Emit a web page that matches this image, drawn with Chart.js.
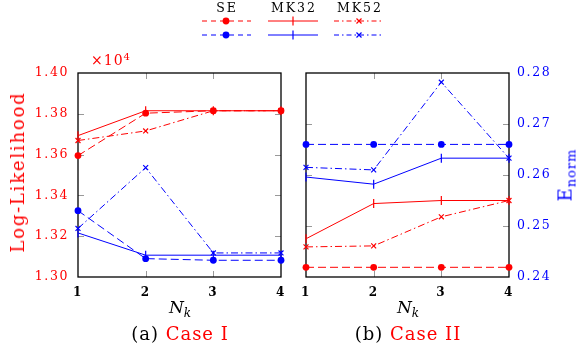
<!DOCTYPE html>
<html>
<head>
<meta charset="utf-8">
<script src="https://cdn.jsdelivr.net/npm/chart.js@4"></script>
<style>
  html, body { margin: 0; padding: 0; background: #fff; }
  #wrap { position: relative; width: 577px; height: 352px; overflow: hidden; font-family: 'DejaVu Serif', serif; }
  canvas { position: absolute; top: 0; }
  .lbl { position: absolute; white-space: nowrap; line-height: 1; transform: translate(-50%, -50%); }
  .rot { transform: translate(-50%, -50%) rotate(-90deg); }
  .red { color: #ff0000; }
  .blue { color: #0000ff; }
  #legend { position: absolute; left: 0; top: 0; }
</style>
</head>
<body>
<div id="wrap">
  <canvas id="caseI" width="290" height="300" style="left:0"></canvas>
  <canvas id="caseII" width="287" height="300" style="left:290px"></canvas>

  <svg id="legend" width="577" height="45"></svg>

  <div class="lbl red" style="left:111px;top:59px;font-size:14px;letter-spacing:1px">×10<sup style="font-size:10px;vertical-align:5px">4</sup></div>
  <div class="lbl red rot" style="left:18px;top:172px;font-size:18px;letter-spacing:1.8px">Log-Likelihood</div>
  <div class="lbl blue rot" style="left:567px;top:175px;font-size:18px;letter-spacing:1px">E<sub style="font-size:13px;vertical-align:-4px">norm</sub></div>

  <div class="lbl" style="left:180px;top:309px;font-size:17px;font-style:italic">N<sub style="font-size:12px;vertical-align:-4px">k</sub></div>
  <div class="lbl" style="left:408px;top:309px;font-size:17px;font-style:italic">N<sub style="font-size:12px;vertical-align:-4px">k</sub></div>
  <div class="lbl" style="left:180px;top:334px;font-size:18px;letter-spacing:1px">(a) <span class="red">Case I</span></div>
  <div class="lbl" style="left:408px;top:334px;font-size:18px;letter-spacing:1px">(b) <span class="red">Case II</span></div>
</div>

<script>
// ============= Data =============
const NK = [1, 2, 3, 4];

// (a) Case I — left axis, Log-Likelihood (x10^4)
const caseI_SE_red   = [1.3595, 1.3803, 1.3815, 1.3815];
const caseI_MK32_red = [1.3693, 1.3815, 1.3815, 1.3815];
const caseI_MK52_red = [1.3669, 1.3716, 1.3815, 1.3815];
const caseI_SE_blue   = [1.3325, 1.3090, 1.3082, 1.3082];
const caseI_MK32_blue = [1.3216, 1.3107, 1.3107, 1.3107];
const caseI_MK52_blue = [1.3238, 1.3536, 1.3118, 1.3118];

// (b) Case II — right axis, E_norm
const caseII_SE_blue   = [0.2660, 0.2660, 0.2660, 0.2660];
const caseII_MK32_blue = [0.2596, 0.2582, 0.2633, 0.2633];
const caseII_MK52_blue = [0.2615, 0.2610, 0.2782, 0.2633];
const caseII_SE_red   = [0.2419, 0.2419, 0.2419, 0.2419];
const caseII_MK32_red = [0.2475, 0.2544, 0.2550, 0.2550];
const caseII_MK52_red = [0.2459, 0.2461, 0.2518, 0.2550];

const ticksI = [1.30, 1.32, 1.34, 1.36, 1.38, 1.40];
const ticksII = [0.24, 0.25, 0.26, 0.27, 0.28];

const RED = '#ff0000';
const BLUE = '#0000ff';

// series styles by kernel
const styles = {
    SE:   { borderDash: [8, 4], pointStyle: 'circle', pointRadius: 3.4, rotation: 0 },
    MK32: { borderDash: [], pointStyle: 'line', pointRadius: 4.5, rotation: 90 },
    MK52: { borderDash: [7, 3, 1.5, 3], pointStyle: 'crossRot', pointRadius: 3.5, rotation: 0 }
};

function series(data, kernel, color) {
    const s = styles[kernel];
    return {
        label: kernel, data: data,
        borderColor: color, backgroundColor: color,
        borderWidth: 1, borderDash: s.borderDash,
        pointStyle: s.pointStyle, pointRadius: s.pointRadius, pointRotation: s.rotation,
        pointBorderWidth: kernel === 'SE' ? 0 : 1.2,
        pointBorderColor: color, pointBackgroundColor: color,
        tension: 0, clip: false
    };
}

// Frame + inner tick marks (pgfplots style)
const frameTicks = {
    id: 'frameTicks',
    beforeDatasetsDraw(chart) {
        const { ctx, chartArea: a, scales } = chart;
        const y = scales.y, x = scales.x;
        ctx.save();
        ctx.strokeStyle = '#999';
        ctx.lineWidth = 1;
        ctx.beginPath();
        y.ticks.forEach(t => {
            const py = Math.round(y.getPixelForValue(t.value)) + 0.5;
            if (py < a.top + 2 || py > a.bottom - 2) return;
            ctx.moveTo(a.left, py); ctx.lineTo(a.left + 6, py);
            ctx.moveTo(a.right - 6, py); ctx.lineTo(a.right, py);
        });
        x.ticks.forEach((t, i) => {
            const px = Math.round(x.getPixelForTick(i)) + 0.5;
            if (px < a.left + 2 || px > a.right - 2) return;
            ctx.moveTo(px, a.top); ctx.lineTo(px, a.top + 6);
            ctx.moveTo(px, a.bottom - 6); ctx.lineTo(px, a.bottom);
        });
        ctx.stroke();
        ctx.strokeStyle = '#000';
        ctx.lineWidth = 1.3;
        ctx.strokeRect(a.left, a.top, a.right - a.left, a.bottom - a.top);
        ctx.restore();
    }
};

const spacing = {
    id: 'spacing',
    beforeLayout(chart) { chart.ctx.letterSpacing = '1.6px'; },
    beforeDraw(chart) { chart.ctx.letterSpacing = '1.6px'; }
};

function makeChart(id, datasets, yOpts, pad) {
    return new Chart(document.getElementById(id), {
        type: 'line',
        data: { labels: NK.map(String), datasets: datasets },
        options: {
            responsive: false, animation: false,
            layout: { padding: pad },
            plugins: { legend: { display: false }, tooltip: { enabled: false } },
            scales: {
                x: {
                    grid: { display: false, drawTicks: false }, border: { display: false },
                    ticks: { color: '#000', padding: 9, font: { family: 'DejaVu Serif', size: 12, weight: 'bold' } },
                    afterFit(s) { s.height = 23; s.paddingLeft = 0; s.paddingRight = 0; }
                },
                y: Object.assign({
                    grid: { display: false, drawTicks: false }, border: { display: false }
                }, yOpts)
            }
        },
        plugins: [frameTicks, spacing]
    });
}

makeChart('caseI', [
    series(caseI_SE_red, 'SE', RED),
    series(caseI_MK32_red, 'MK32', RED),
    series(caseI_MK52_red, 'MK52', RED),
    series(caseI_SE_blue, 'SE', BLUE),
    series(caseI_MK32_blue, 'MK32', BLUE),
    series(caseI_MK52_blue, 'MK52', BLUE)
], {
    position: 'left', min: ticksI[0], max: ticksI[ticksI.length - 1],
    afterBuildTicks(s) { s.ticks = ticksI.map(v => ({ value: v })); },
    afterFit(s) { s.width = 78; s.paddingTop = 0; s.paddingBottom = 0; },
    ticks: { color: RED, padding: 9, font: { family: 'DejaVu Serif', size: 12.5 }, callback: v => v.toFixed(2) }
}, { left: 0, right: 9, top: 73, bottom: 0 });

makeChart('caseII', [
    series(caseII_SE_red, 'SE', RED),
    series(caseII_MK32_red, 'MK32', RED),
    series(caseII_MK52_red, 'MK52', RED),
    series(caseII_SE_blue, 'SE', BLUE),
    series(caseII_MK32_blue, 'MK32', BLUE),
    series(caseII_MK52_blue, 'MK52', BLUE)
], {
    position: 'right', min: ticksII[0], max: ticksII[ticksII.length - 1],
    afterBuildTicks(s) { s.ticks = ticksII.map(v => ({ value: v })); },
    afterFit(s) { s.width = 68; s.paddingTop = 0; s.paddingBottom = 0; },
    ticks: { color: BLUE, padding: 8, font: { family: 'DejaVu Serif', size: 12.5 }, callback: v => v.toFixed(2) }
}, { left: 16, right: 0, top: 73, bottom: 0 });

// ============= Legend =============
(function () {
    const svg = document.getElementById('legend');
    const NS = 'http://www.w3.org/2000/svg';
    const kernels = ['SE', 'MK32', 'MK52'];
    const cols = [{ x0: 202, x1: 251, cx: 226 }, { x0: 268, x1: 318, cx: 293 }, { x0: 334, x1: 384, cx: 359 }];
    const rows = [{ color: RED, y: 21 }, { color: BLUE, y: 35 }];
    const dash = { SE: '5,4', MK32: '', MK52: '5,3,1.5,3' };

    function el(tag, attrs) {
        const e = document.createElementNS(NS, tag);
        for (const k in attrs) e.setAttribute(k, attrs[k]);
        svg.appendChild(e);
        return e;
    }

    kernels.forEach((k, i) => {
        const c = cols[i];
        const t = el('text', { x: c.cx + 1, y: 11.5, 'text-anchor': 'middle', 'font-family': 'DejaVu Serif', 'font-size': 12.5, 'letter-spacing': 2, fill: '#000' });
        t.textContent = k;
        rows.forEach(r => {
            el('line', { x1: c.x0, x2: c.x1, y1: r.y, y2: r.y, stroke: r.color, 'stroke-width': 1, 'stroke-dasharray': dash[k] });
            if (k === 'SE') el('circle', { cx: c.cx, cy: r.y, r: 3.4, fill: r.color });
            if (k === 'MK32') el('line', { x1: c.cx, x2: c.cx, y1: r.y - 4.5, y2: r.y + 4.5, stroke: r.color, 'stroke-width': 1.2 });
            if (k === 'MK52') el('path', { d: `M${c.cx - 2.5},${r.y - 2.5}L${c.cx + 2.5},${r.y + 2.5}M${c.cx - 2.5},${r.y + 2.5}L${c.cx + 2.5},${r.y - 2.5}`, stroke: r.color, 'stroke-width': 1.2 });
        });
    });
})();
</script>
</body>
</html>
